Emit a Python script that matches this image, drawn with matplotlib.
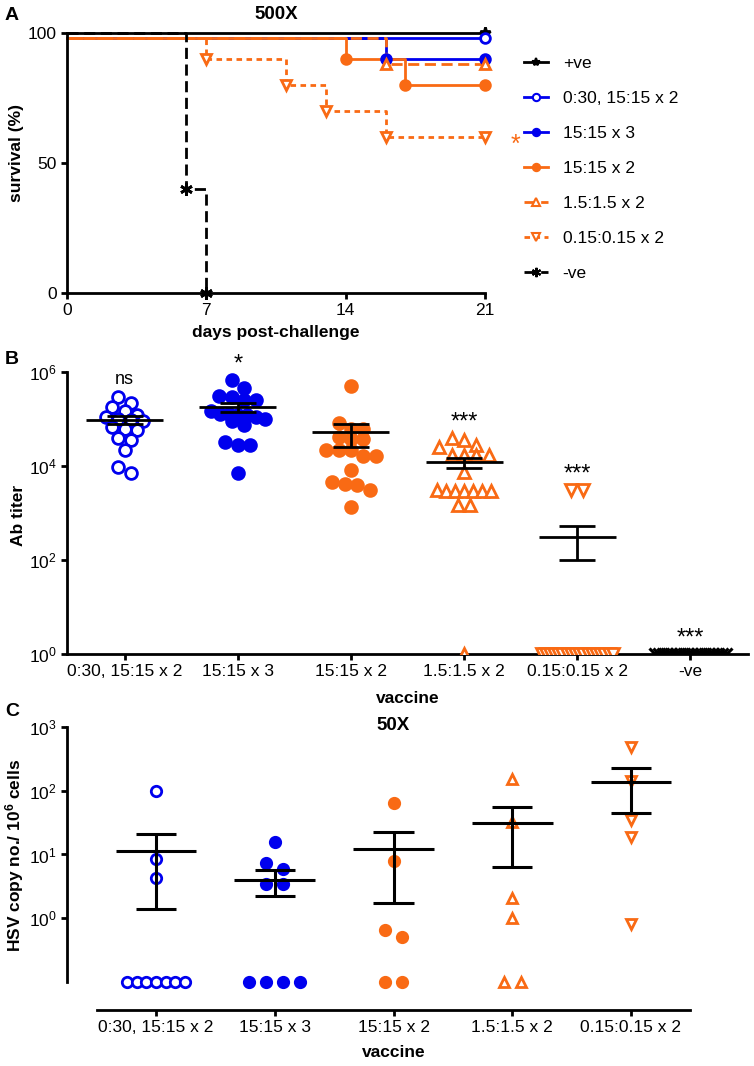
import numpy as np
import matplotlib
matplotlib.use("Agg")
import matplotlib.pyplot as plt
from matplotlib.lines import Line2D

plt.rcParams["font.family"] = ["Liberation Sans", "DejaVu Sans"]
plt.rcParams["mathtext.default"] = "regular"
plt.rcParams["font.size"] = 12.5

BLUE = "#0000ee"
ORANGE = "#f96a14"

# ---- panel A: survival after 500X challenge
surv_labels = ["+ve", "0:30, 15:15 x 2", "15:15 x 3", "15:15 x 2",
               "1.5:1.5 x 2", "0.15:0.15 x 2", "-ve"]
surv_days = [[0, 21], [0, 21], [0, 16, 21], [0, 14, 17, 21],
             [0, 16, 21], [0, 7, 11, 13, 16, 21], [0, 6, 7]]
surv_pct = [[100, 100], [98, 98], [98, 90, 90], [98, 90, 80, 80],
            [98, 88, 88], [98, 90, 80, 70, 60, 60], [100, 40, 0]]
day_ticks = [0, 7, 14, 21]
pct_ticks = [0, 50, 100]

# ---- panel B: antibody titer
ab_groups = ["0:30, 15:15 x 2", "15:15 x 3", "15:15 x 2",
             "1.5:1.5 x 2", "0.15:0.15 x 2", "-ve"]
ab_g1 = [2.9e5, 2.2e5, 1.8e5, 1.5e5, 1.2e5, 1.1e5, 1.0e5, 9.5e4, 9.1e4,
         6.7e4, 6.0e4, 5.8e4, 4.0e4, 3.6e4, 2.2e4, 9.5e3, 7.1e3]
ab_g2 = [6.8e5, 4.6e5, 3.1e5, 2.9e5, 2.5e5, 2.5e5, 1.5e5, 1.3e5, 1.3e5,
         1.2e5, 1.2e5, 1.1e5, 1.0e5, 9.0e4, 7.4e4, 3.2e4, 2.8e4, 2.8e4, 7.1e3]
ab_g3 = [5.0e5, 8.2e4, 6.1e4, 6.0e4, 4.1e4, 3.7e4, 3.7e4, 2.2e4, 2.2e4,
         2.2e4, 1.6e4, 1.6e4, 8.2e3, 4.6e3, 4.2e3, 4.0e3, 3.1e3, 1.35e3]
ab_g4 = [4.0e4, 3.6e4, 2.8e4, 2.5e4, 1.7e4, 1.7e4, 1.7e4, 1.7e4, 7.4e3,
         3.1e3, 3.0e3, 3.0e3, 3.0e3, 3.0e3, 3.0e3, 3.0e3, 1.5e3, 1.5e3, 1]
ab_g5 = [3.1e3, 3.1e3, 1, 1, 1, 1, 1, 1, 1, 1, 1, 1, 1, 1, 1, 1, 1, 1, 1, 1]
ab_g6 = [1, 1, 1, 1, 1, 1, 1, 1, 1, 1, 1, 1, 1, 1, 1, 1, 1, 1]
ab_signif = ["ns", "*", "", "***", "***", "***"]

# ---- panel C: HSV copies after 50X challenge (0 = undetected)
hsv_groups = ["0:30, 15:15 x 2", "15:15 x 3", "15:15 x 2",
              "1.5:1.5 x 2", "0.15:0.15 x 2"]
hsv_g1 = [100, 8.5, 4.3, 0, 0, 0, 0, 0, 0, 0]
hsv_g2 = [15.6, 7.3, 5.9, 3.4, 3.4, 0, 0, 0, 0]
hsv_g3 = [64, 7.9, 0.65, 0.5, 0, 0]
hsv_g4 = [152, 32, 2.05, 1.0, 0, 0]
hsv_g5 = [490, 141, 35, 18.6, 0.81]

# marker style per vaccine group (shared between panels)
grp_style = [
    dict(marker="o", mfc="white", mec=BLUE),
    dict(marker="o", mfc=BLUE, mec=BLUE),
    dict(marker="o", mfc=ORANGE, mec=ORANGE),
    dict(marker="^", mfc="white", mec=ORANGE),
    dict(marker="v", mfc="white", mec=ORANGE),
    dict(marker="x", mfc="black", mec="black"),
]


def swarm(vals, row, step, maxw, maxw_big=None):
    """Horizontal offsets for a column scatter (rows of similar values)."""
    lv = np.log10(vals)
    offs = np.zeros(len(vals))
    rows = []
    for i in np.argsort(-lv, kind="stable"):
        if rows and rows[-1][0] - lv[i] < row:
            rows[-1][1].append(i)
        else:
            rows.append((lv[i], [i]))
    for _, idx in rows:
        n = len(idx)
        w = maxw if (maxw_big is None or n <= 10) else maxw_big
        s = step if n < 2 else min(step, w / (n - 1))
        offs[idx] = (np.arange(n) - (n - 1) / 2) * s
    return offs


def mean_sem(ax, x, vals, half, cap, lw):
    v = np.asarray(vals, float)
    m = v.mean()
    s = v.std(ddof=1) / np.sqrt(len(v))
    ax.hlines(m, x - half, x + half, color="black", lw=lw, zorder=5)
    ax.vlines(x, m - s, m + s, color="black", lw=lw, zorder=5)
    ax.hlines([m - s, m + s], x - cap, x + cap, color="black", lw=lw, zorder=5)


def style_axes(ax):
    for side in ["top", "right"]:
        ax.spines[side].set_visible(False)
    for side in ["left", "bottom"]:
        ax.spines[side].set_linewidth(2)
    ax.tick_params(direction="out", length=4.5, width=2, pad=3, labelsize=12.5)
    ax.minorticks_off()


fig = plt.figure(figsize=(7.54, 10.66), dpi=100)

# ================= A
axA = fig.add_axes([0.0889, 0.7251, 0.5544, 0.2439])
line_styles = [
    dict(color="black", ls="-", marker="*", mfc="black", ms=8),
    dict(color=BLUE, ls="-", marker="o", mfc="white", ms=7),
    dict(color=BLUE, ls="-", marker="o", mfc=BLUE, ms=7),
    dict(color=ORANGE, ls="-", marker="o", mfc=ORANGE, ms=7),
    dict(color=ORANGE, ls=(0, (4, 2)), marker="^", mfc="white", ms=7),
    dict(color=ORANGE, ls=(0, (2, 1.6)), marker="v", mfc="white", ms=7),
    dict(color="black", ls=(0, (4, 2)), marker=(6, 2, 0), mfc="black", ms=9),
]
handles = []
for days, pct, st, lab in zip(surv_days, surv_pct, line_styles, surv_labels):
    axA.step(days, pct, where="post", color=st["color"], ls=st["ls"], lw=2,
             clip_on=False)
    axA.plot(days[1:], pct[1:], ls="none", marker=st["marker"], ms=st["ms"],
             mfc=st["mfc"], mec=st["color"], mew=2, clip_on=False, zorder=4)
    handles.append(Line2D([], [], color=st["color"], ls=st["ls"], lw=2,
                          marker=st["marker"], ms=st["ms"] * 0.75,
                          mfc=st["mfc"], mec=st["color"], mew=1.5))
axA.set_xlim(0, 21)
axA.set_ylim(0, 100)
axA.set_xticks(day_ticks)
axA.set_yticks(pct_ticks)
style_axes(axA)
axA.set_xlabel("days post-challenge", fontweight="bold", labelpad=5)
axA.set_ylabel("survival (%)", fontweight="bold")
axA.yaxis.set_label_coords(-0.103, 0.54)
axA.text(0.5, 1.07, "500X", transform=axA.transAxes, ha="center",
         va="center", fontweight="bold", fontsize=13.5)
axA.text(22.3, 57, "*", color=ORANGE, fontsize=18, va="center", clip_on=False)
axA.legend(handles, surv_labels, loc="upper left",
           bbox_to_anchor=(508 / 754, 1 - 40 / 1066),
           bbox_transform=fig.transFigure, frameon=False, handlelength=1.4,
           handletextpad=0.85, labelspacing=1.15, fontsize=12.5)

# ================= B
axB = fig.add_axes([0.0889, 0.3865, 0.9031, 0.2645])
ab_data = [ab_g1, ab_g2, ab_g3, ab_g4, ab_g5, ab_g6]
for i, (vals, st) in enumerate(zip(ab_data, grp_style)):
    x = i + 1
    v = np.asarray(vals, float)
    offs = swarm(v, 0.2, 0.11, 0.48, 0.63)
    axB.plot(x + offs, v, ls="none", ms=8.5, mew=2 if st["marker"] != "x" else 2.2,
             zorder=3, **st)
    mean_sem(axB, x, v, 0.34, 0.16, 2)
    if ab_signif[i]:
        star = ab_signif[i].startswith("*")
        axB.annotate(ab_signif[i], (x, v.max()), xytext=(0, 3 if star else 7),
                     textcoords="offset points", ha="center", va="bottom",
                     fontsize=17 if star else 13)
axB.set_yscale("log")
axB.set_ylim(1, 1e6)
axB.set_xlim(0.49, 6.51)
axB.set_yticks([1, 1e2, 1e4, 1e6])
axB.set_yticklabels([r"$10^{0}$", r"$10^{2}$", r"$10^{4}$", r"$10^{6}$"])
axB.set_xticks(range(1, 7))
axB.set_xticklabels(ab_groups)
style_axes(axB)
axB.set_xlabel("vaccine", fontweight="bold", labelpad=8)
axB.set_ylabel("Ab titer", fontweight="bold")
axB.yaxis.set_label_coords(-0.060, 0.49)

# ================= C
axC = fig.add_axes([0.0889, 0.0525, 0.866, 0.2655])
floor = 0.1
hsv_data = [hsv_g1, hsv_g2, hsv_g3, hsv_g4, hsv_g5]
for i, (vals, st) in enumerate(zip(hsv_data, grp_style)):
    x = i + 1
    v = np.asarray(vals, float)
    shown = np.where(v > 0, v, floor)
    offs = swarm(shown, 0.15, 0.143, 0.49)
    axC.plot(x + offs, shown, ls="none", ms=7.5, mew=2, zorder=3,
             clip_on=False, **st)
    mean_sem(axC, x, v, 0.34, 0.17, 2.2)
axC.set_yscale("log")
axC.set_ylim(10 ** -1.44, 1e3)
axC.set_xlim(0.25, 5.75)
axC.spines["left"].set_bounds(floor, 1e3)
axC.spines["bottom"].set_bounds(0.5, 5.5)
axC.set_yticks([1, 10, 100, 1000])
axC.set_yticklabels([r"$10^{0}$", r"$10^{1}$", r"$10^{2}$", r"$10^{3}$"])
axC.set_xticks(range(1, 6))
axC.set_xticklabels(hsv_groups)
style_axes(axC)
axC.set_xlabel("vaccine", fontweight="bold", labelpad=7)
axC.set_ylabel(r"HSV copy no./ 10$^{6}$ cells", fontweight="bold")
axC.yaxis.set_label_coords(-0.063, 0.548)
axC.text(0.5, 1.007, "50X", transform=axC.transAxes, ha="center",
         va="center", fontweight="bold", fontsize=13.5)

for letter, ypix in [("A", 15), ("B", 360), ("C", 712)]:
    fig.text(12 / 754, 1 - ypix / 1066, letter, fontweight="bold",
             fontsize=14, ha="center", va="center")

fig.savefig("out.png", dpi=100)
